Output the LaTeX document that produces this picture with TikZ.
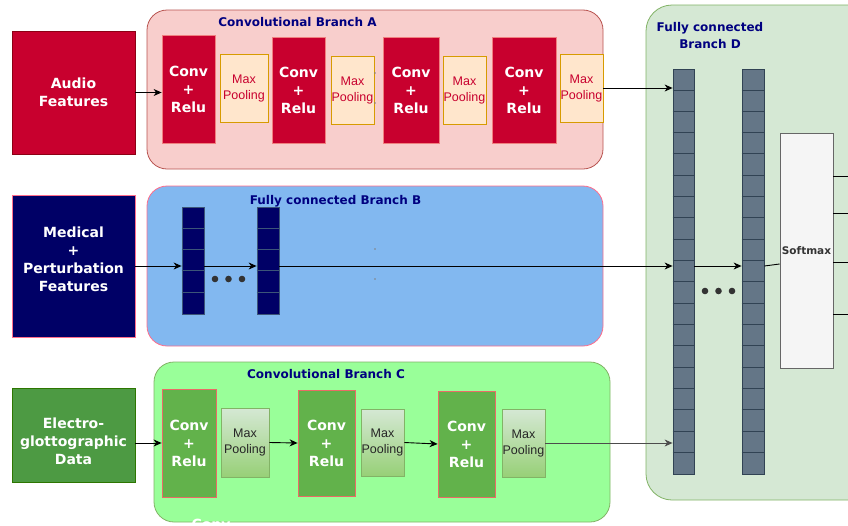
\documentclass[tikz,border=0pt]{standalone}
\usepackage{fontspec}
\setmainfont{DejaVu Sans}
\newfontfamily\arialf{Liberation Sans}
\usetikzlibrary{arrows.meta,shadings}

\definecolor{crim}{RGB}{200,0,46}
\definecolor{crimdark}{RGB}{140,0,20}
\definecolor{pinkborder}{RGB}{240,128,128}
\definecolor{brAfill}{HTML}{F8CECC}
\definecolor{brAdraw}{HTML}{B85450}
\definecolor{poolAfill}{HTML}{FFE6CC}
\definecolor{poolAdraw}{HTML}{D79B00}
\definecolor{navy}{HTML}{000066}
\definecolor{titlec}{RGB}{0,0,128}
\definecolor{brBfill}{RGB}{130,184,240}
\definecolor{brBdraw}{RGB}{255,110,140}
\definecolor{fcBdraw}{RGB}{60,85,120}
\definecolor{egfill}{RGB}{77,154,67}
\definecolor{egdraw}{HTML}{2D7600}
\definecolor{brCfill}{HTML}{99FF99}
\definecolor{greendraw}{HTML}{82B366}
\definecolor{convCfill}{RGB}{98,178,75}
\definecolor{convCdraw}{HTML}{EA6B66}
\definecolor{poolCtop}{HTML}{D5E8D4}
\definecolor{poolCbot}{HTML}{97D077}
\definecolor{brDfill}{HTML}{D5E8D4}
\definecolor{fcDfill}{HTML}{647687}
\definecolor{fcDdraw}{HTML}{314354}
\definecolor{smfill}{HTML}{F5F5F5}
\definecolor{smdraw}{HTML}{666666}
\definecolor{smtext}{HTML}{333333}

\tikzset{
  box/.style={draw, line width=0.8pt, inner sep=0pt, align=center,
    font=\fontsize{14}{18}\selectfont\bfseries, text=white},
  boxtext/.style={inner sep=0pt, align=center, font=\fontsize{14}{18}\selectfont\bfseries, text=white},
  inputA/.style={box, fill=crim, draw=crimdark},
  inputB/.style={box, fill=navy, draw=brBdraw},
  inputC/.style={box, fill=egfill, draw=egdraw},
  convA/.style={box, fill=crim, draw=pinkborder},
  convC/.style={box, fill=convCfill, draw=convCdraw},
  poolA/.style={draw=poolAdraw, fill=poolAfill, line width=0.8pt, inner sep=0pt,
    align=center, text=crim, font=\arialf\fontsize{12.5}{16}\selectfont},
  poolC/.style={draw=greendraw, top color=poolCtop, bottom color=poolCbot, line width=0.8pt,
    inner sep=0pt, align=center, text=black!85, font=\arialf\fontsize{12.5}{16}\selectfont},
  branch/.style={rounded corners=20pt, line width=0.8pt, inner sep=0pt},
  btitle/.style={text=titlec, font=\fontsize{12}{17}\selectfont\bfseries, align=center, inner sep=0pt},
  fcB/.style={draw=fcBdraw, fill=navy, line width=0.8pt, inner sep=0pt, minimum width=22pt, minimum height=107pt},
  fcD/.style={draw=fcDdraw, fill=fcDfill, line width=0.8pt, inner sep=0pt, minimum width=21pt, minimum height=405pt},
  smbox/.style={draw=smdraw, fill=smfill, line width=0.8pt, inner sep=0pt,
    text=smtext, font=\fontsize{10.5}{13}\selectfont\bfseries},
  arr/.style={-{Stealth[length=8pt,width=7pt,inset=2.5pt]}, line width=0.9pt, black},
  ln/.style={line width=0.9pt, black},
}

\begin{document}
\begin{tikzpicture}[x=1pt,y=-1pt]
\clip (0,0) rectangle (848,525);
\fill[white] (0,0) rectangle (848,525);

% ---------- branch containers ----------
\node[branch, draw=brAdraw, fill=brAfill, minimum width=456pt, minimum height=159pt] (brA) at (375,89.5) {};
\node[branch, draw=brBdraw, fill=brBfill, minimum width=456pt, minimum height=160pt] (brB) at (375,266) {};
\node[branch, draw=greendraw, fill=brCfill, minimum width=456pt, minimum height=160pt] (brC) at (382,442) {};
\node[branch, rounded corners=26pt, draw=greendraw, fill=brDfill, minimum width=229pt, minimum height=495pt] (brD) at (760.5,252.5) {};

% ---------- titles ----------
\node[btitle] (tA) at (297.5,22) {Convolutional Branch A};
\node[btitle] (tB) at (335.5,201) {Fully connected Branch B};
\node[btitle] (tC) at (326,374) {Convolutional Branch C};
\node[btitle] (tD) at (710,36) {Fully connected\\Branch D};

% ---------- inputs ----------
\node[inputA, minimum width=123pt, minimum height=123pt] (audio) at (73.5,92.5) {Audio\\Features};
\node[inputB, minimum width=123pt, minimum height=142pt] (medical) at (73.5,266) {};
\node[boxtext] (medicaltxt) at (73.5,259.5) {Medical\\+\\Perturbation\\Features};
\node[inputC, minimum width=123pt, minimum height=94pt] (electro) at (73.5,435) {};
\node[boxtext] (electrotxt) at (73.5,441) {Electro-\\glottographic\\Data};

% ---------- branch A ----------
\node[convA, minimum width=53pt, minimum height=108pt] (cA1) at (188.5,89) {Conv\\+\\Relu};
\node[convA, minimum width=53pt, minimum height=106pt] (cA2) at (298.5,90) {Conv\\+\\Relu};
\node[convA, minimum width=56pt, minimum height=106pt] (cA3) at (411,90) {Conv\\+\\Relu};
\node[convA, minimum width=64pt, minimum height=106pt] (cA4) at (524,90) {Conv\\+\\Relu};
\node[poolA, minimum width=48pt, minimum height=68pt] (pA1) at (244,88) {Max\\Pooling};
\node[poolA, minimum width=43pt, minimum height=68pt] (pA2) at (352.5,90) {Max\\Pooling};
\node[poolA, minimum width=43pt, minimum height=68pt] (pA3) at (464.5,90) {Max\\Pooling};
\node[poolA, minimum width=43pt, minimum height=68pt] (pA4) at (581.5,88) {Max\\Pooling};

% ---------- branch B ----------
\node[fcB] (fB1) at (193,260.5) {};
\node[fcB] (fB2) at (268,260.5) {};
\foreach \c in {fB1,fB2}{
  \foreach \i in {1,...,4}{
    \draw[fcBdraw, line width=0.8pt] (\c.north west) ++(0,{\i*107/5}) -- ++(22,0);
  }
}
\foreach \x in {215,228.5,242}{ \fill[smtext] (\x,279) circle (3.3pt); }

% ---------- branch C ----------
\node[convC, minimum width=54pt, minimum height=108pt] (cC1) at (189,443) {Conv\\+\\Relu};
\node[convC, minimum width=57pt, minimum height=106pt] (cC2) at (326.5,443) {Conv\\+\\Relu};
\node[convC, minimum width=57pt, minimum height=106pt] (cC3) at (466.5,444) {Conv\\+\\Relu};
\node[poolC, minimum width=48pt, minimum height=69pt] (pC1) at (245,442.5) {Max\\Pooling};
\node[poolC, minimum width=43pt, minimum height=67pt] (pC2) at (382.5,442.5) {Max\\Pooling};
\node[poolC, minimum width=43pt, minimum height=68pt] (pC3) at (523.5,443) {Max\\Pooling};
\node[boxtext] (cutconv) at (211,524) {Conv};

% ---------- branch D ----------
\node[fcD] (fD1) at (683.5,271.5) {};
\node[fcD, minimum width=22pt] (fD2) at (753,271.5) {};
\foreach \i in {1,...,18}{
  \draw[fcDdraw, line width=0.8pt] (fD1.north west) ++(0,{\i*405/19}) -- ++(21,0);
  \draw[fcDdraw, line width=0.8pt] (fD2.north west) ++(0,{\i*405/19}) -- ++(22,0);
}
\foreach \x in {705,718.5,732}{ \fill[smtext] (\x,291) circle (3.3pt); }
\node[smbox, minimum width=53pt, minimum height=235pt] (soft) at (806.5,250.5) {Softmax};

% tiny connection dots
\foreach \p in {(375,73),(375,103),(375,249),(375,279)}{ \fill[gray] \p circle (0.9pt); }

% ---------- connectors ----------
\draw[arr] (audio.east) -- (cA1.west |- audio.east);
\draw[arr] (pA4.east) -- (fD1.west |- pA4.east);

\draw[arr] (medical.east) -- (fB1.west |- medical.east);
\draw[arr] (fB1.east |- medical.east) -- (fB2.west |- medical.east);
\draw[arr] (fB2.east |- medical.east) -- (fD1.west |- medical.east);

\draw[arr] (electro.east |- cC1.west) -- (cC1.west);
\draw[arr] (pC1.east) -- (cC2.west);
\draw[arr] (pC2.east) -- (cC3.west);
\draw[arr, black!70] (pC3.east) -- (fD1.west |- pC3.east);

\draw[arr] (fD1.east |- medical.east) -- (fD2.west |- medical.east);
\draw[ln] (fD2.east |- medical.east) -- ([yshift=2pt]soft.west |- medical.east);

\coordinate (o1) at (848,176);
\coordinate (o2) at (848,213);
\coordinate (o3) at (848,262);
\coordinate (o4) at (848,314);
\foreach \o in {o1,o2,o3,o4}{ \draw[ln] (soft.east |- \o) -- (\o); }
\end{tikzpicture}
\end{document}
